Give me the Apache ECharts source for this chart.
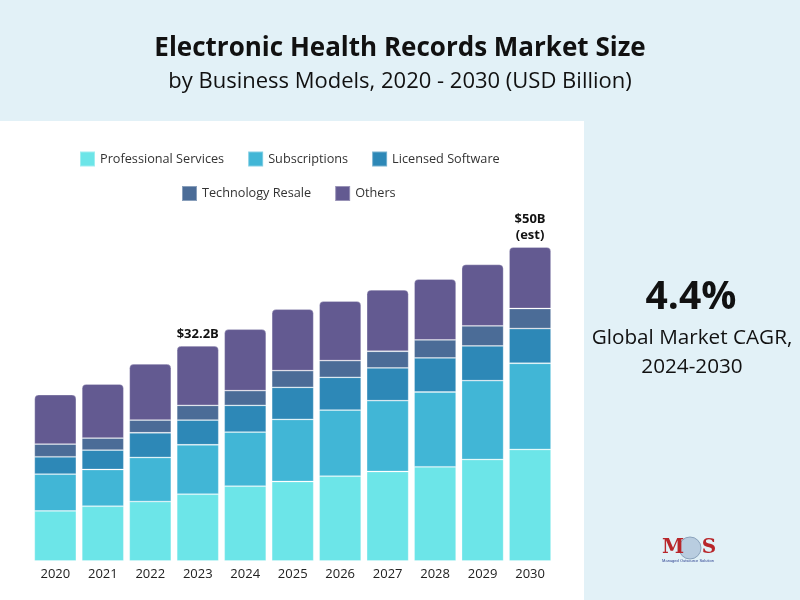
<!DOCTYPE html>
<html><head><meta charset="utf-8">
<script src="https://cdn.jsdelivr.net/npm/echarts@6/dist/echarts.min.js"></script>
<style>html,body{margin:0;padding:0;background:#fff}#c{width:800px;height:600px}</style>
</head><body><div id="c"></div>
<script>
const years = ['2020','2021','2022','2023','2024','2025','2026','2027','2028','2029','2030'];
const professionalServices = [7.5, 8.2, 8.9, 10.0, 11.2, 11.9, 12.7, 13.4, 14.1, 15.2, 16.7];
const subscriptions        = [5.5, 5.5, 6.6, 7.4, 8.1, 9.3, 9.9, 10.6, 11.2, 11.8, 12.9];
const licensedSoftware     = [2.6, 2.9, 3.7, 3.7, 4.0, 4.8, 4.9, 4.9, 5.1, 5.2, 5.2];
const technologyResale     = [1.9, 1.8, 1.9, 2.2, 2.2, 2.5, 2.5, 2.5, 2.7, 3.0, 3.0];
const others               = [7.4, 8.1, 8.4, 8.9, 9.2, 9.2, 8.9, 9.2, 9.1, 9.2, 9.2];
const topLabels = ['', '', '', '$32.2B', '', '', '', '', '', '', '$50B\n(est)'];
const seriesNames = ['Professional Services','Subscriptions','Licensed Software','Technology Resale','Others'];
const colors = ['#6ce5e8','#41b6d6','#2d88b7','#4b6c97','#635a91'];

const chart = echarts.init(document.getElementById('c'), null, {renderer:'canvas'});
const font = '"Open Sans", sans-serif';
const dataSets = [professionalServices, subscriptions, licensedSoftware, technologyResale, others];
const series = dataSets.map((d, i) => ({
  name: seriesNames[i], type: 'bar', stack: 'total', data: d,
  barWidth: 42,
  itemStyle: {
    color: colors[i],
    borderColor: 'rgba(255,255,255,0.35)', borderWidth: 0.8,
    borderRadius: i === 4 ? [4,4,0,0] : 0
  },
  label: i === 4 ? {
    show: true, position: 'top', distance: 4,
    formatter: p => topLabels[p.dataIndex],
    fontFamily: font, fontWeight: 'bold', fontSize: 13, color: '#111', lineHeight: 16
  } : {show: false},
  emphasis: {disabled: true}
}));

const legendCommon = {itemWidth: 15, itemHeight: 15, itemGap: 23, itemTextGap: 8, padding: 0,
  icon: 'rect', textStyle: {fontFamily: font, fontSize: 12.7, color: '#333'}, selectedMode: false};

chart.setOption({
  animation: false,
  backgroundColor: '#ffffff',
  textStyle: {fontFamily: font},
  graphic: [
    {type:'rect', shape:{x:0,y:0,width:800,height:121}, style:{fill:'#e2f1f7'}, z:-10},
    {type:'rect', shape:{x:584,y:121,width:216,height:479}, style:{fill:'#e2f1f7'}, z:-10},
    {type:'text', x:400, y:48.5, style:{text:'Electronic Health Records Market Size', font:'bold 26px "Open Sans"', fill:'#111', textAlign:'center', textVerticalAlign:'middle'}},
    {type:'text', x:400, y:81.5, style:{text:'by Business Models, 2020 - 2030 (USD Billion)', font:'22px "Open Sans"', fill:'#111', textAlign:'center', textVerticalAlign:'middle'}},
    {type:'text', x:691, y:298, style:{text:'4.4%', font:'bold 39px "Open Sans"', fill:'#111', textAlign:'center', textVerticalAlign:'middle'}},
    {type:'text', x:692, y:338, style:{text:'Global Market CAGR,', font:'20.7px "Open Sans"', fill:'#111', textAlign:'center', textVerticalAlign:'middle'}},
    {type:'text', x:692, y:367, style:{text:'2024-2030', font:'20.7px "Open Sans"', fill:'#111', textAlign:'center', textVerticalAlign:'middle'}},
    {type:'circle', shape:{cx:690, cy:548, r:11}, style:{fill:'#b9cde0', stroke:'#8aa2bb', lineWidth:1}},
    {type:'text', x:673, y:548, style:{text:'M', font:'bold 20px "DejaVu Serif"', fill:'#b8262a', textAlign:'center', textVerticalAlign:'middle'}},
    {type:'text', x:709, y:548, style:{text:'S', font:'bold 20px "DejaVu Serif"', fill:'#b8262a', textAlign:'center', textVerticalAlign:'middle'}},
    {type:'text', x:688, y:561, style:{text:'Managed Outsource Solution', font:'4px sans-serif', fill:'#2a3f8f', textAlign:'center', textVerticalAlign:'middle'}}
  ],
  legend: [
    Object.assign({data: seriesNames.slice(0,3), left: 79, top: 150.5}, legendCommon),
    Object.assign({data: seriesNames.slice(3), left: 181, top: 185}, legendCommon)
  ],
  grid: {left: 31.6, width: 522.2, top: 227, bottom: 39, containLabel: false},
  xAxis: {type: 'category', data: years, axisLine: {show: false}, axisTick: {show: false},
    axisLabel: {fontFamily: font, fontSize: 13, color: '#222', margin: 7}},
  yAxis: {type: 'value', min: 0, max: 50, show: false, splitLine: {show: false}},
  series: series
});
</script></body></html>
